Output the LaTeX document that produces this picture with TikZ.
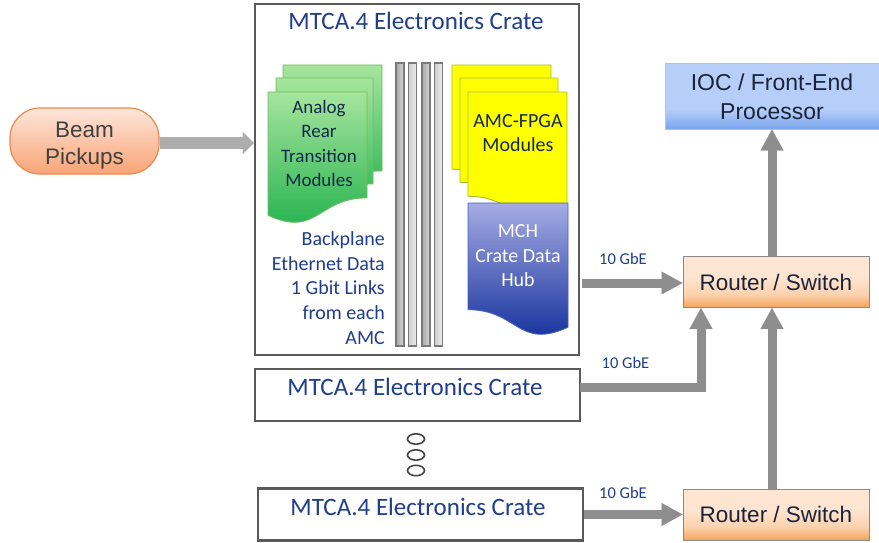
\documentclass[tikz,border=0pt]{standalone}
\usepackage{fontspec}
\setmainfont{Liberation Sans}
\newfontfamily\arl{Liberation Sans}
\newfontfamily\carl{Carlito}
\usetikzlibrary{arrows.meta}

% palette
\definecolor{crateborder}{HTML}{5A5A5A}
\definecolor{bluetxt}{HTML}{1F3E8C}
\definecolor{navytxt}{HTML}{13294B}
\definecolor{darktxt}{HTML}{1B2338}
\definecolor{beamtxt}{HTML}{404040}
\definecolor{arrowgray}{HTML}{8E8E8E}
\definecolor{beamarrow}{HTML}{ADADAD}
\definecolor{beamtop}{HTML}{FDE6DA}
\definecolor{beambot}{HTML}{F9A476}
\definecolor{beamedge}{HTML}{E88A4E}
\definecolor{rsA}{HTML}{FDE5D1}
\definecolor{rsM}{HTML}{FBD2AE}
\definecolor{rsB}{HTML}{F4A55C}
\definecolor{rsedge}{HTML}{8A8A8A}
\definecolor{iocA}{HTML}{B6CEF8}
\definecolor{iocB}{HTML}{79A5EE}
\definecolor{iocedge}{HTML}{A8C6F2}
\definecolor{gtop}{HTML}{A6E59D}
\definecolor{gbot}{HTML}{1DAF4A}
\definecolor{gedge}{HTML}{6DBE5E}
\definecolor{yfill}{HTML}{FFFF00}
\definecolor{yedge}{HTML}{9FBF3F}
\definecolor{mtop}{HTML}{A6ACE4}
\definecolor{mbot}{HTML}{0A2896}
\definecolor{medge}{HTML}{4462C8}
\definecolor{barAl}{HTML}{A9A9A9}
\definecolor{barAr}{HTML}{D6D6D6}
\definecolor{barBl}{HTML}{CFCFCF}
\definecolor{barBr}{HTML}{EEEEEE}
\definecolor{baredge}{HTML}{7A7A7A}
\definecolor{dotedge}{HTML}{454545}

% vertical shadings (path spans 25bp..75bp)
\pgfdeclareverticalshading{routershade}{100bp}{color(0bp)=(rsB); color(25bp)=(rsB); color(38bp)=(rsM); color(55bp)=(rsA); color(100bp)=(rsA)}
\pgfdeclareverticalshading{iocshade}{100bp}{color(0bp)=(iocB); color(25bp)=(iocB); color(40bp)=(iocA); color(100bp)=(iocA)}

\tikzset{
  docN/.style n args={4}{insert path={(#1,#2) -- ({#1+#3},#2) -- ({#1+#3},{#2+0.802*#4})
      .. controls ({#1+0.5*#3},{#2+0.802*#4}) and ({#1+0.5*#3},{#2+1.107*#4}) .. (#1,{#2+0.934*#4}) -- cycle}},
  docF/.style n args={4}{insert path={(#1,#2) -- ({#1+#3},#2) -- ({#1+#3},{#2+0.934*#4})
      .. controls ({#1+0.5*#3},{#2+1.107*#4}) and ({#1+0.5*#3},{#2+0.802*#4}) .. (#1,{#2+0.802*#4}) -- cycle}},
  greendoc/.style={top color=gtop, bottom color=gbot, draw=gedge, line width=0.9pt},
  yellowdoc/.style={fill=yfill, draw=yedge, line width=0.9pt},
  mchdoc/.style={top color=mtop, bottom color=mbot, draw=medge, line width=0.9pt},
  crate/.style={draw=crateborder, line width=2.4pt, fill=white, inner sep=0pt},
  crtitle/.style={text=bluetxt, font=\carl\fontsize{25}{30}\selectfont, inner sep=0pt},
  modtext/.style={align=center, inner sep=0pt},
  gbe/.style={text=bluetxt, font=\carl\fontsize{16.5}{20}\selectfont, inner sep=0pt},
  routerbox/.style={draw=rsedge, line width=1pt, shading=routershade, minimum width=186pt,
      minimum height=51pt, inner sep=0pt, text=darktxt, font=\arl\fontsize{22.5}{27}\selectfont},
  fat/.style={draw=arrowgray, line width=9pt, line join=miter,
      -{Triangle[length=21pt,width=23pt,line width=0.1pt]}},
  dotring/.style={draw=dotedge, line width=1.6pt},
}

\begin{document}
\begin{tikzpicture}[x=1pt,y=-1pt]
\useasboundingbox (0,0) rectangle (879,543);

% ---- main crate ----
\node[crate, minimum width=324pt, minimum height=351pt] (crateA) at (417,179.5) {};
\node[crtitle] (titleA) at (416,21) {MTCA.4 Electronics Crate};

% analog rear transition modules (stack of three)
\shade[greendoc, docN={283}{65}{99}{132}];
\shade[greendoc, docN={276}{78}{97}{132}];
\shade[greendoc, docN={268}{92}{99}{132}];
\node[modtext, text=navytxt, font=\carl\fontsize{19}{24.5}\selectfont] (rtm) at (319,143.5)
  {Analog\\Rear\\Transition\\Modules};

% backplane bars
\shade[left color=barAl, right color=barAr, draw=baredge, line width=1.2pt] (396,63) rectangle (404,346);
\shade[left color=barBl, right color=barBr, draw=baredge, line width=1.2pt] (408.5,63) rectangle (416.5,346);
\shade[left color=barAl, right color=barAr, draw=baredge, line width=1.2pt] (422,63) rectangle (430,346);
\shade[left color=barBl, right color=barBr, draw=baredge, line width=1.2pt] (434.5,63) rectangle (442.5,346);

% AMC-FPGA modules (stack of three)
\filldraw[yellowdoc, docF={452}{65}{99}{130}];
\filldraw[yellowdoc, docF={460}{78}{98}{130}];
\filldraw[yellowdoc, docF={468}{92}{99}{130}];
\node[modtext, text=navytxt, font=\carl\fontsize{20}{24.5}\selectfont] (amc) at (518,133)
  {AMC-FPGA\\Modules};

% MCH
\shade[mchdoc, docF={468}{203}{100}{133}];
\node[modtext, text=white, font=\carl\fontsize{20}{24.5}\selectfont] (mch) at (518,256)
  {MCH\\Crate Data\\Hub};
\coordinate (mchout) at (582,283);

% backplane note
\node[anchor=east, align=right, inner sep=0pt, text=bluetxt,
      font=\carl\fontsize{20}{24.7}\selectfont] (bpnote) at (385,288)
  {Backplane\\Ethernet Data\\1 Gbit Links\\from each\\AMC};

% ---- further crates ----
\node[crate, minimum width=325pt, minimum height=52pt] (crateB) at (417.5,395) {};
\node[crtitle] (titleB) at (415,387) {MTCA.4 Electronics Crate};
\coordinate (c2out) at (580,387);

\draw[dotring] (416,439) ellipse (8.5 and 5.2);
\draw[dotring] (416,455) ellipse (8.5 and 5.2);
\draw[dotring] (416,470.5) ellipse (8.5 and 5.2);

\node[crate, minimum width=325pt, minimum height=52pt] (crateC) at (420.5,514.5) {};
\node[crtitle] (titleC) at (418,507) {MTCA.4 Electronics Crate};

% ---- beam pickups ----
\node[draw=beamedge, line width=1.2pt, top color=beamtop, bottom color=beambot,
      rounded corners=30pt, minimum width=149pt, minimum height=66pt, inner sep=0pt,
      text=beamtxt, font=\arl\fontsize{22.5}{27}\selectfont] (beam) at (84.5,141)
  {\raisebox{-4.5pt}[\height][\depth]{\begin{tabular}{@{}c@{}}Beam\\[0.5pt]Pickups\end{tabular}}};

% ---- network side ----
\node[draw=iocedge, line width=1pt, shading=iocshade, minimum width=214pt, minimum height=65pt,
      inner sep=0pt, align=center, text=darktxt, font=\arl\fontsize{23}{29}\selectfont] (ioc) at (772,96.5)
  {IOC / Front-End\\Processor};

\node[routerbox] (router1) at (776,282) {Router / Switch};
\node[routerbox] (router2) at (776,514.5) {Router / Switch};

% ---- connectors ----
\draw[draw=beamarrow, line width=12pt, -{Triangle[length=11pt,width=22pt,line width=0.1pt]}]
  (beam.east |- 0,143) -- (crateA.west |- 0,143);
\draw[fat] (mchout) -- (router1.west |- mchout);
\draw[fat] (c2out) -| ([xshift=-75pt]router1.south);
\draw[fat] (crateC.east |- router2.west) -- (router2.west);
\draw[fat] (router2.north -| ioc.south) -- (router1.south -| ioc.south);
\draw[fat] (router1.north -| ioc.south) -- (ioc.south);

% link labels
\node[gbe] (gbe1) at (623,259) {10 GbE};
\node[gbe] (gbe2) at (625.5,363) {10 GbE};
\node[gbe] (gbe3) at (623,493) {10 GbE};
\end{tikzpicture}
\end{document}
